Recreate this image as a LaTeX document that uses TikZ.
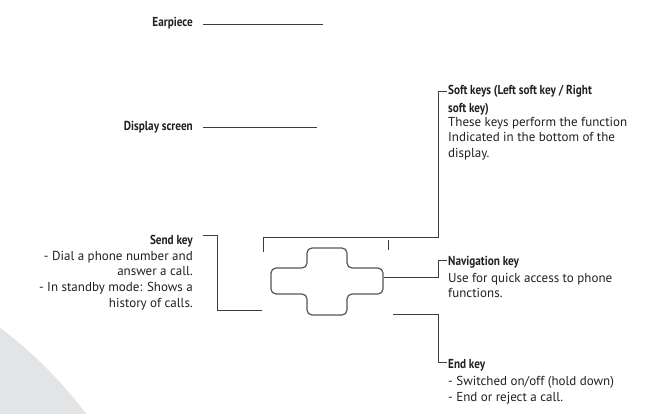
\documentclass[tikz,border=0pt]{standalone}
\usepackage{fontspec}
\setmainfont{PT Sans}
\newfontfamily\headFont{PT Sans}[FakeStretch=0.86]
\usetikzlibrary{positioning}
\tikzstyle{phoneSheet} = [x = 1pt, y = -1pt]
\definecolor{lineColor}{RGB}{60,60,60}
\definecolor{keyColor}{RGB}{85,85,85}
\definecolor{textColor}{RGB}{35,31,32}
\definecolor{shadeColor}{RGB}{227,228,229}
\tikzstyle{phoneLine} = [color=lineColor, line width=0.9pt]
\tikzstyle{keyOutline} = [color=keyColor, line width=1.2pt, rounded corners = 5pt]
\tikzstyle{headText} = [text=textColor, inner sep=0pt, font=\headFont\bfseries\fontsize{13}{17}\selectfont]
\tikzstyle{bodyText} = [text=textColor, inner sep=0pt, font=\fontsize{13}{15.3}\selectfont]
\newcommand{\calloutGap}{10}

\begin{document}
\begin{tikzpicture}[phoneSheet]
  \useasboundingbox (0,0) rectangle (661,414);
  \begin{scope}
    \clip (0,0) rectangle (661,414);
    \fill [shadeColor] (-260,674) circle (433);
  \end{scope}
  % left labels
  \node [headText, anchor=east] (earpieceLabel) at (193,23) {Earpiece};
  \node [headText, anchor=east] (displayLabel) at (193,127) {Display screen};
  \node [headText, anchor=base east] (sendLabel) at (193,244) {Send key};
  \node [bodyText, align=right, below=4pt of sendLabel.south east, anchor=north east] (sendText)
    {- Dial a phone number and\\answer a call.\\[1pt]- In standby mode: Shows a\\history of calls.};
  % right labels
  \node [headText, align=left, anchor=north west] (softLabel) at (448,85) {Soft keys (Left soft key / Right\\[1.5pt]soft key)};
  \node [bodyText, align=left, below=1pt of softLabel.south west, anchor=north west] (softText)
    {These keys perform the function\\Indicated in the bottom of the\\display.};
  \node [headText, anchor=base west] (navLabel) at (448,265) {Navigation key};
  \node [bodyText, align=left, below=5pt of navLabel.south west, anchor=north west] (navText)
    {Use for quick access to phone\\functions.};
  \node [headText, anchor=base west] (endLabel) at (448,368) {End key};
  \node [bodyText, align=left, below=5pt of endLabel.south west, anchor=north west] (endText)
    {- Switched on/off (hold down)\\[1pt]- End or reject a call.};
  % navigation key
  \draw [keyOutline] (271,268) -- (307,268) -- (307,248) -- (347,248) -- (347,268) -- (383,268)
    -- (383,294) -- (347,294) -- (347,315) -- (307,315) -- (307,294) -- (271,294) -- cycle;
  % callout ends
  \coordinate (earpieceEnd) at (323,24);
  \coordinate (displayEnd) at (317,127);
  \coordinate (sendEnd) at (262,310);
  \coordinate (softLeft) at (263,252);
  \coordinate (softMid) at (388,240);
  \coordinate (softTop) at (438,91);
  \coordinate (navEnd) at (384,277);
  \coordinate (navTop) at (438,260);
  \coordinate (endEnd) at (393,314);
  \coordinate (endBottom) at (438,362);
  % callouts
  \draw [phoneLine] ([xshift=\calloutGap]earpieceLabel.east |- earpieceEnd) -- (earpieceEnd);
  \draw [phoneLine] ([xshift=\calloutGap]displayLabel.east |- displayEnd) -- (displayEnd);
  \draw [phoneLine] ([xshift=\calloutGap]sendLabel.east |- 0,235) -- (217,235) -- (217,310) -- (sendEnd);
  \draw [phoneLine] (softLeft) -- (263,237) -- (softTop |- 0,237) -- (softTop) -- ([xshift=-1]softLabel.west |- softTop);
  \draw [phoneLine] (softMid) -- (388,250);
  \draw [phoneLine] (navEnd) -- (navTop |- navEnd) -- (navTop) -- ([xshift=-1]navLabel.west |- navTop);
  \draw [phoneLine] (endEnd) -- (endBottom |- endEnd) -- (endBottom) -- ([xshift=-1]endLabel.west |- endBottom);
\end{tikzpicture}
\end{document}
